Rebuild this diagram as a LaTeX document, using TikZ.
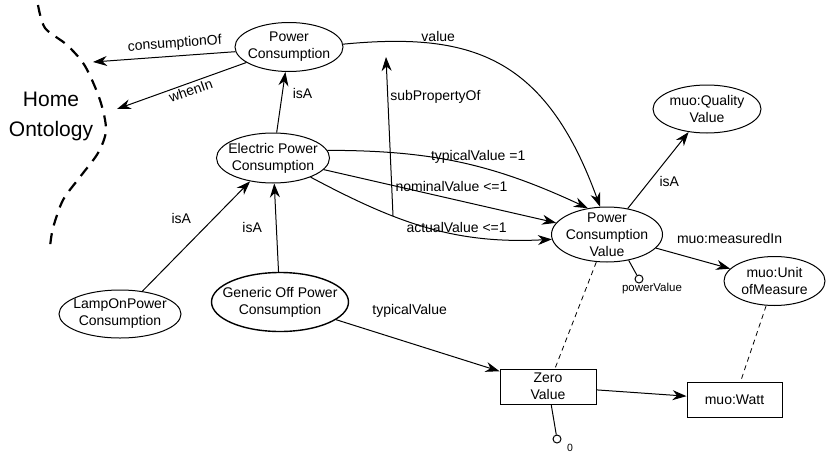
\documentclass[tikz,border=0pt]{standalone}
\usepackage{fontspec}
\setmainfont{Liberation Sans}
\usetikzlibrary{shapes.geometric,arrows.meta,positioning}
\newcommand\lblfont{\fontsize{14}{17}\selectfont}
\begin{document}
\begin{tikzpicture}[x=1pt,y=-1pt,
    ent/.style={draw,ellipse,line width=1pt,inner sep=-6pt,align=center,font=\lblfont},
    val/.style={draw,rectangle,line width=1pt,align=center,font=\lblfont},
    rel/.style={-{Stealth[length=14pt,width=10pt]},line width=1pt},
    lnk/.style={line width=0.8pt,dash pattern=on 5pt off 4pt},
    dot/.style={circle,draw,line width=1pt,inner sep=0pt,minimum size=8pt},
    lbl/.style={font=\lblfont,inner sep=2pt}]
  \useasboundingbox (0,0) rectangle (826,455);
  % classes and values
  \node[ent,minimum width=108,minimum height=49] (pc) at (289,47) {Power\\Consumption};
  \node[ent,minimum width=113,minimum height=50] (epc) at (273,158) {Electric Power\\Consumption};
  \node[ent,minimum width=111,minimum height=55] (pcv) at (607,234.5) {Power\\Consumption\\Value};
  \node[ent,minimum width=108,minimum height=48] (qv) at (707,109) {muo:Quality\\Value};
  \node[ent,minimum width=101,minimum height=49] (unit) at (774.5,281) {muo:Unit\\ofMeasure};
  \node[ent,minimum width=122,minimum height=48] (lamp) at (120,314) {LampOnPower\\Consumption};
  \node[ent,line width=1.4pt,inner xsep=-9.5pt,minimum width=137,minimum height=59] (gen) at (280,302) {Generic Off Power\\Consumption};
  \node[val,minimum width=96,minimum height=35] (zero) at (548,386.5) {Zero\\Value};
  \node[val,minimum width=95,minimum height=35] (watt) at (734.5,399.5) {muo:Watt};
  \node[dot] (pvdot) at (639,279) {};
  \node[dot] (zdot) at (557,439) {};
  \node[font=\fontsize{11.5}{13}\selectfont] (pvlbl) at (652,289) {powerValue};
  \node[font=\fontsize{10.5}{12}\selectfont] (zlbl) at (570,448) {0};
  % home ontology
  \node[align=center,font=\fontsize{21}{30}\selectfont] (home) at (51,116) {Home\\Ontology};
  \draw[line width=2.2pt,dash pattern=on 11pt off 8pt] plot[smooth] coordinates {(38,5) (45,28) (67,45) (85,66) (100,100) (106,130) (98,153) (80,177) (63,200) (53,228) (50,247)};
  \coordinate (ho1) at (93,62);
  \coordinate (ho2) at (117,109);
  \coordinate (sp1) at (393,216);
  \coordinate (sp2) at (386,57);
  % relations
  \draw[rel] (pc.185) -- node[lbl,sloped,above=3pt,pos=0.42] {consumptionOf} (ho1);
  \draw[rel] (pc.200) -- node[lbl,sloped,below,pos=0.45] {whenIn} (ho2);
  \draw[rel] (epc) -- node[lbl,pos=0.65,right=8pt] {isA} (pc);
  \draw[rel] (lamp) -- node[lbl,pos=0.66,left=20pt] {isA} (epc);
  \draw[rel] (gen) -- node[lbl,midway,left=12pt] {isA} (epc);
  \draw[rel] (sp1) -- node[lbl,pos=0.75,right] {subPropertyOf} (sp2);
  \draw[rel] (pc.3) .. controls (470,32) and (545,55) .. node[lbl,pos=0.28,above] {value} (pcv.104);
  \draw[rel] (epc.8) to[out=0,in=155] node[lbl,pos=0.57,above=1pt] {typicalValue =1} (pcv.126);
  \draw[rel] (epc) -- node[lbl,pos=0.55,above=5pt] {nominalValue <=1} (pcv);
  \draw[rel] (epc.-27) to[out=-28,in=183] node[lbl,pos=0.63,above=-1pt] {actualValue <=1} (pcv.185);
  \draw[rel] (pcv) -- node[lbl,pos=0.35,right=8pt] {isA} (qv);
  \draw[rel] (pcv) -- node[lbl,pos=0.25,anchor=south west,yshift=7pt] {muo:measuredIn} (unit);
  \draw[rel] (gen) -- node[lbl,pos=0.45,yshift=32pt] {typicalValue} (zero);
  \draw[rel] (zero) -- (watt);
  \draw[lnk] (pcv) -- (zero);
  \draw[lnk] (unit) -- (watt);
  \draw[line width=1pt] (pcv.-50) -- (pvdot);
  \draw[line width=1pt] (zero.-80) -- (zdot);
\end{tikzpicture}
\end{document}
